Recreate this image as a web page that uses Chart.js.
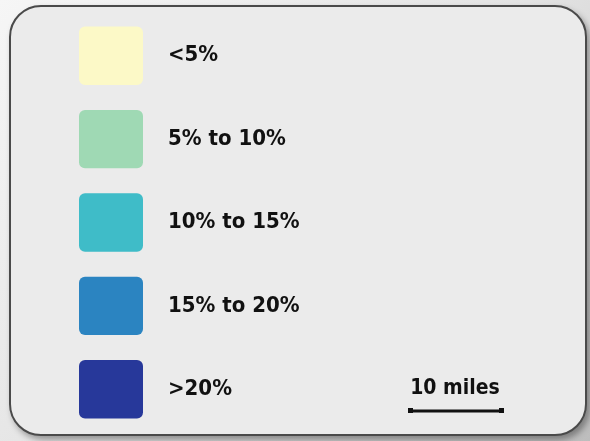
<!DOCTYPE html>
<html>
<head>
<meta charset="utf-8">
<script src="https://cdn.jsdelivr.net/npm/chart.js@4"></script>
<style>
  html, body { margin: 0; padding: 0; }
  body {
    width: 590px; height: 441px; overflow: hidden; position: relative;
    background: linear-gradient(135deg, #f6f6f6 0%, #e4e4e4 50%, #bdbdbd 100%);
  }
  #panel {
    position: absolute; left: 9px; top: 5px; width: 574px; height: 427px;
    border: 2px solid #4a4a4a; border-radius: 32px;
    background: #ebebeb;
    box-shadow: 3px 4px 6px rgba(0,0,0,0.35);
  }
  #wrap { position: absolute; left: 0; top: 0; width: 590px; height: 441px; }
</style>
</head>
<body>
<div id="panel"></div>
<div id="wrap"><canvas id="legend" width="590" height="441"></canvas></div>
<script>
// Legend classes
const classes = ['<5%', '5% to 10%', '10% to 15%', '15% to 20%', '>20%'];
const swatchValues = [1, 1, 1, 1, 1];
const swatchColors = ['#fcf9c7', '#9fd9b4', '#3fbcc8', '#2b84c1', '#27389a'];
const scaleLabel = '10 miles';

const fontFamily = '"Liberation Sans Narrow", "DejaVu Sans Condensed", sans-serif';

// scale bar drawn on top
const scaleBar = {
    id: 'scaleBar',
    afterDraw(chart) {
        const c = chart.ctx;
        c.save();
        c.fillStyle = '#111';
        c.strokeStyle = '#111';
        c.font = 'bold 21px ' + fontFamily;
        c.textAlign = 'center';
        c.textBaseline = 'alphabetic';
        c.fillText(scaleLabel, 455, 394);
        c.lineWidth = 3;
        c.beginPath();
        c.moveTo(410, 411);
        c.lineTo(501, 411);
        c.stroke();
        c.fillRect(408, 408, 5, 5);
        c.fillRect(499, 408, 5, 5);
        c.restore();
    }
};

new Chart(document.getElementById('legend'), {
    type: 'bar',
    data: {
        labels: classes,
        datasets: [{
            data: swatchValues,
            backgroundColor: swatchColors,
            borderRadius: 6,
            borderSkipped: false,
            categoryPercentage: 1,
            barPercentage: 0.7
        }]
    },
    options: {
        indexAxis: 'y',
        responsive: false,
        animation: false,
        layout: { padding: { left: 79, right: 0, top: 14, bottom: 10 } },
        plugins: { legend: { display: false }, tooltip: { enabled: false } },
        scales: {
            x: { display: false, min: 0, max: 1 },
            y: {
                position: 'right',
                grid: { display: false, drawTicks: false },
                border: { display: false },
                afterFit: s => {
                    s.width = 447;
                    s.paddingTop = 0;
                    s.paddingBottom = 0;
                },
                ticks: {
                    padding: 25,
                    color: '#111',
                    font: { family: fontFamily, size: 22, weight: 'bold' }
                }
            }
        }
    },
    plugins: [scaleBar]
});
</script>
</body>
</html>
